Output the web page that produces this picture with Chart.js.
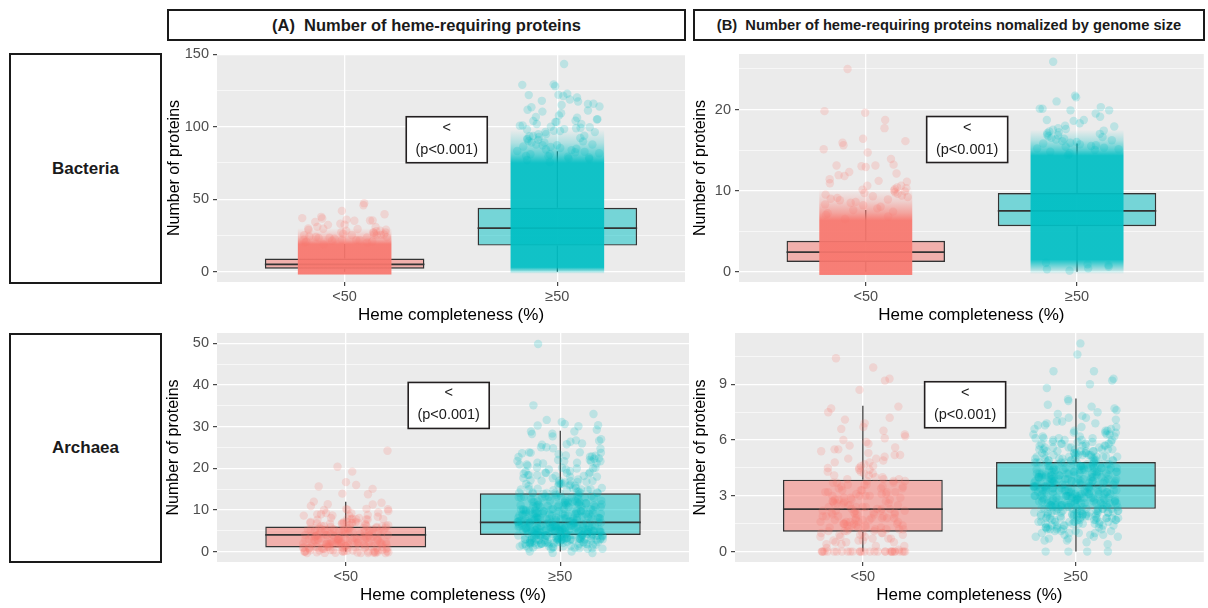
<!DOCTYPE html>
<html>
<head>
<meta charset="utf-8">
<title>Heme-requiring proteins by heme completeness</title>
<script src="https://cdn.jsdelivr.net/npm/chart.js@4.4.1/dist/chart.umd.min.js"></script>
<style>
  html, body { margin: 0; padding: 0; background: #ffffff; }
  body { position: relative; width: 1208px; height: 608px; overflow: hidden;
         font-family: 'Liberation Sans', Arial, Helvetica, sans-serif; }
  .strip { position: absolute; box-sizing: border-box; border: 2px solid #1a1a1a; background: #ffffff;
           display: flex; align-items: center; justify-content: center;
           font-weight: bold; color: #1a1a1a; white-space: pre; }
  canvas { position: absolute; }
</style>
</head>
<body>
<script>
// ---------------- data ----------------
const groups = ['<50', '≥50'];
const stripTitles = ['(A)  Number of heme-requiring proteins',
                     '(B)  Number of heme-requiring proteins nomalized by genome size'];
const domains = ['Bacteria', 'Archaea'];
const yTitle = 'Number of proteins';
const xTitle = 'Heme completeness (%)';
const testLabel = ['<', '(p<0.001)'];

// box statistics per group: [lower whisker, Q1, median, Q3, upper whisker]
const bacteriaCountBox = [[0, 2, 5, 9, 19], [0, 18, 30, 44, 83]];
const bacteriaNormBox  = [[0, 1.2, 2.4, 3.8, 7.6], [0, 5.6, 7.5, 9.7, 15.8]];
const archaeaCountBox  = [[0, 1, 4, 6, 12], [0, 4, 7, 14, 29]];
const archaeaNormBox   = [[0, 1.07, 2.28, 3.87, 7.84], [0, 2.3, 3.55, 4.82, 8.23]];

// bacteria: saturated jitter clouds [fade from, solid from, solid to, fade to]
const bacteriaCountCloud = [[-2.4, -1.6, 19, 30], [-1.5, 3, 75, 98]];
const bacteriaNormCloud  = [[-0.45, -0.35, 6.3, 10.2], [-0.3, 1.5, 14.3, 17.5]];

// bacteria: genomes lying in the thinning edge of the clouds and above them
const bacteriaCountSparse = [
  [19,20,20,21,21,21,22,22,22,22,23,23,23,24,24,24,24,25,25,25,25,26,26,26,27,27,27,27,28,28,28,
   29,29,29,30,30,31,31,32,32,33,34,35,35,35,36,37,37,38,40,42,46,47],
  [76,77,78,78,79,79,80,80,81,81,82,82,83,83,84,84,85,85,86,86,87,87,88,88,89,89,90,90,91,91,92,
   92,93,93,94,94,95,95,96,96,97,97,98,98,99,99,100,100,101,101,102,102,103,103,104,104,105,105,
   106,107,108,109,110,111,112,113,114,115,116,116,117,118,119,120,121,122,122,123,128,129,129,143]
];
const bacteriaNormSparse = [
  [6.5,6.8,7.0,7.2,7.4,7.6,7.8,8.0,8.2,8.3,8.5,8.6,8.8,8.9,9.0,9.1,9.2,9.3,9.4,9.5,9.6,9.7,9.8,9.9,
   10.0,10.1,10.2,10.3,10.4,10.6,10.6,10.9,11.1,11.2,11.4,11.8,11.9,12.1,12.3,12.9,13.0,13.1,13.1,
   13.2,13.9,14.7,15.1,15.6,15.9,16.1,16.4,17.7,18.7,19.6,19.8,25.0],
  [0.1,0.3,0.4,0.6,0.8,0.9,1.1,14.4,14.6,14.8,15.0,15.1,15.2,15.3,15.4,15.5,15.6,15.7,15.8,15.9,
   16.0,16.1,16.2,16.3,16.4,16.5,16.6,16.7,16.8,16.9,17.0,17.1,17.2,17.3,17.4,17.5,17.6,17.7,17.9,
   18.0,18.3,18.6,18.7,18.7,19.1,19.5,19.9,19.9,20.1,20.1,20.3,21.0,21.5,21.7,25.9]
];

// archaea: genomes per protein count (0, 1, 2, ...)
const archaeaCountFreq = [
  [30,28,25,24,24,20,17,14,11,9, 6,3,2,0,2,1,2,1,0,1, 1,0,0,0,1],
  [4,16,30,40,42,40,36,32,26,22, 20,18,17,15,14,11,10,9,9,8, 7,7,8,6,5,4,4,3,3,3,
   3,2,1,1,0,1,0,0,0,0, 0,0,0,0,0,0,0,0,0,0, 1]
];
// archaea: genomes per normalized value (0.0, 0.1, 0.2, ...)
const archaeaNormFreq = [
  [30,1,1,2,2,3,3,3,3,3, 4,4,5,4,5,5,5,4,5,4, 5,4,5,4,4,4,4,4,4,3, 4,3,4,3,3,3,3,3,3,3,
   2,2,2,2,2,2,2,1,2,1, 2,1,2,1,1,2,1,1,1,1, 1,1,1,1,0,1,1,1,0,1, 0,1,1,0,0,1,0,1,1,0,
   0,0,0,0,0,0,0,1,0,0, 0,0,1,1,0,0,0,0,0,1, 0,0,0,0,1],
  [4,0,0,0,1,1,2,2,3,3, 4,4,5,5,6,6,8,8,9,9, 10,10,10,10,10,10,10,10,10,10,
   10,10,10,10,10,9,10,10,10,10, 10,9,9,9,9,9,8,8,8,8, 7,7,7,6,6,6,5,5,5,4,
   4,4,3,3,3,3,2,2,2,2, 2,1,2,1,1,1,1,1,1,1, 0,1,1,0,0,0,0,0,1,0,
   1,0,1,1,0,0,0,2,0,0, 0,0,0,0,0,0,1,0,0,0, 0,0,1]
];

// axis ticks and limits
const bacteriaCountTicks = [0, 50, 100, 150];
const bacteriaNormTicks  = [0, 10, 20];
const archaeaCountTicks  = [0, 10, 20, 30, 40, 50];
const archaeaNormTicks   = [0, 3, 6, 9];
const bacteriaCountLimits = [-7.15, 150.15];
const bacteriaNormLimits  = [-1.28, 26.85];
const archaeaCountLimits  = [-2.5, 52.5];
const archaeaNormLimits   = [-0.56, 11.76];

// position of the test label in data units [x, y]
const testLabelAt = [[1.48, 91], [1.48, 16.3], [1.48, 35.1], [1.48, 7.9]];

// ---------------- styling / layout ----------------
const COLORS = ['#F8766D', '#00BFC4'];
const FONT = "'Liberation Sans', Arial, Helvetica, sans-serif";
const JITTER_W = 0.2;

function fade(hex, a) {
  const n = parseInt(hex.slice(1), 16);
  return `rgba(${(n >> 16) & 255},${(n >> 8) & 255},${n & 255},${a})`;
}
// deterministic jitter offsets (quadratic Weyl sequences)
const WA = 0.7548776662466927, WB = 0.5698402909980532;
const frac = v => v - Math.floor(v);
const jitX = i => (frac(0.5 + (i + 1) * (i + 2) * 0.5 * WA) - 0.5) * 2 * JITTER_W;
const jitY = i => (frac(0.25 + (i + 1) * (i + 3) * 0.5 * WB) - 0.5) * 0.8;

function expandFreq(freq, step) {
  const out = [];
  freq.forEach((n, k) => { for (let j = 0; j < n; j++) out.push(+(k * step).toFixed(2)); });
  return out;
}

const stripBoxes = [
  { left: 167, top: 9, w: 519, h: 32, size: 16.5 },
  { left: 693, top: 9, w: 512, h: 32, size: 14.7 }
];
const rowBoxes = [
  { left: 9, top: 53, w: 153, h: 231, size: 17 },
  { left: 9, top: 333, w: 153, h: 230, size: 17 }
];
const frames = [
  { left: 140, top: 34,  w: 560, h: 300, padTop: 20, padRight: 15, yWidth: 77, xHeight: 52, yTitlePad: 25.4, xTitlePad: 8.8 },
  { left: 680, top: 34,  w: 528, h: 300, padTop: 20, padRight: 4,  yWidth: 59, xHeight: 52, yTitlePad: 11.4, xTitlePad: 8.8 },
  { left: 140, top: 313, w: 560, h: 295, padTop: 20, padRight: 11, yWidth: 77, xHeight: 46, yTitlePad: 23.7, xTitlePad: 2.8 },
  { left: 680, top: 313, w: 528, h: 295, padTop: 20, padRight: 4,  yWidth: 55, xHeight: 46, yTitlePad: 11.4, xTitlePad: 2.8 }
];

const panels = [
  { box: bacteriaCountBox, cloud: bacteriaCountCloud, points: bacteriaCountSparse, vJitter: true,
    ticks: bacteriaCountTicks, limits: bacteriaCountLimits, label: testLabelAt[0] },
  { box: bacteriaNormBox, cloud: bacteriaNormCloud, points: bacteriaNormSparse, vJitter: false,
    ticks: bacteriaNormTicks, limits: bacteriaNormLimits, label: testLabelAt[1] },
  { box: archaeaCountBox, cloud: null, points: archaeaCountFreq.map(f => expandFreq(f, 1)), vJitter: true,
    ticks: archaeaCountTicks, limits: archaeaCountLimits, label: testLabelAt[2] },
  { box: archaeaNormBox, cloud: null, points: archaeaNormFreq.map(f => expandFreq(f, 0.1)), vJitter: false,
    ticks: archaeaNormTicks, limits: archaeaNormLimits, label: testLabelAt[3] }
];

// ---------------- strips ----------------
function addStrip(b, text) {
  const d = document.createElement('div');
  d.className = 'strip';
  d.style.left = b.left + 'px'; d.style.top = b.top + 'px';
  d.style.width = b.w + 'px'; d.style.height = b.h + 'px';
  d.style.fontSize = b.size + 'px';
  d.textContent = text;
  document.body.appendChild(d);
}
stripBoxes.forEach((b, i) => addStrip(b, stripTitles[i]));
rowBoxes.forEach((b, i) => addStrip(b, domains[i]));

// ---------------- plugins ----------------
const panelBackground = {
  id: 'panelBackground',
  beforeDraw(chart) {
    const a = chart.chartArea, ctx = chart.ctx;
    ctx.save();
    ctx.fillStyle = '#EBEBEB';
    ctx.fillRect(a.left, a.top, a.right - a.left, a.bottom - a.top);
    ctx.restore();
  }
};

const boxWhiskers = {
  id: 'boxWhiskers',
  afterDatasetDraw(chart, args) {
    const ds = chart.data.datasets[args.index];
    if (ds.role !== 'box') return;
    const y = chart.scales.y, ctx = chart.ctx;
    ctx.save();
    ctx.strokeStyle = '#333333';
    args.meta.data.forEach((bar, g) => {
      const s = ds.stats[g];
      const half = bar.width / 2;
      ctx.lineWidth = 1.2;
      ctx.beginPath();
      ctx.moveTo(bar.x, y.getPixelForValue(s[3])); ctx.lineTo(bar.x, y.getPixelForValue(s[4]));
      ctx.moveTo(bar.x, y.getPixelForValue(s[1])); ctx.lineTo(bar.x, y.getPixelForValue(s[0]));
      ctx.stroke();
      ctx.lineWidth = 1.8;
      ctx.beginPath();
      const ym = y.getPixelForValue(s[2]);
      ctx.moveTo(bar.x - half, ym); ctx.lineTo(bar.x + half, ym);
      ctx.stroke();
    });
    ctx.restore();
  }
};

const testLabelBox = {
  id: 'testLabelBox',
  afterDatasetsDraw(chart, args, opts) {
    const cx = chart.scales.x.getPixelForValue(opts.at[0]);
    const cy = chart.scales.y.getPixelForValue(opts.at[1]);
    const ctx = chart.ctx, w = 81, h = 46;
    ctx.save();
    ctx.fillStyle = '#ffffff';
    ctx.fillRect(cx - w / 2, cy - h / 2, w, h);
    ctx.strokeStyle = '#231f20'; ctx.lineWidth = 1.6;
    ctx.strokeRect(cx - w / 2, cy - h / 2, w, h);
    ctx.fillStyle = '#1a1a1a';
    ctx.font = '14.5px ' + FONT;
    ctx.textAlign = 'center'; ctx.textBaseline = 'middle';
    ctx.fillText(testLabel[0], cx, cy - 12);
    ctx.fillText(testLabel[1], cx, cy + 10);
    ctx.restore();
  }
};

function cloudFill(ctx, cloud) {
  if (ctx.dataIndex === undefined || !ctx.chart.chartArea) return 'rgba(0,0,0,0)';
  const c = cloud[ctx.dataIndex], col = COLORS[ctx.dataIndex];
  const ys = ctx.chart.scales.y;
  const g = ctx.chart.ctx.createLinearGradient(0, ys.getPixelForValue(c[0]), 0, ys.getPixelForValue(c[3]));
  const span = c[3] - c[0];
  const t1 = (c[1] - c[0]) / span, t2 = (c[2] - c[0]) / span;
  g.addColorStop(0, fade(col, 0));
  g.addColorStop(t1, fade(col, 0.93));
  g.addColorStop(t2, fade(col, 0.93));
  g.addColorStop(t2 + (1 - t2) * 0.25, fade(col, 0.6));
  g.addColorStop(t2 + (1 - t2) * 0.6, fade(col, 0.25));
  g.addColorStop(1, fade(col, 0));
  return g;
}

// ---------------- charts ----------------
Chart.defaults.font.family = FONT;

function buildPanel(p, f) {
  const canvas = document.createElement('canvas');
  canvas.width = f.w; canvas.height = f.h;
  canvas.style.left = f.left + 'px'; canvas.style.top = f.top + 'px';
  canvas.style.width = f.w + 'px'; canvas.style.height = f.h + 'px';
  document.body.appendChild(canvas);

  const datasets = [];
  p.points.forEach((vals, g) => {
    datasets.push({
      type: 'scatter', order: 0,
      data: vals.map((v, i) => ({ x: g + 1 + jitX(i + 97 * g), y: v + (p.vJitter ? jitY(i) : 0) })),
      pointRadius: 4.2, pointHoverRadius: 4.2, pointBorderWidth: 0,
      backgroundColor: fade(COLORS[g], 0.2), pointBackgroundColor: fade(COLORS[g], 0.2)
    });
  });
  if (p.cloud) {
    datasets.push({
      type: 'bar', order: 1, role: 'cloud',
      data: p.cloud.map((c, g) => ({ x: g + 1, y: [c[0], c[3]] })),
      backgroundColor: ctx => cloudFill(ctx, p.cloud),
      borderWidth: 0, barPercentage: 0.44, categoryPercentage: 1, grouped: false
    });
  }
  datasets.push({
    type: 'bar', order: 2, role: 'box', stats: p.box,
    data: p.box.map((s, g) => ({ x: g + 1, y: [s[1], s[3]] })),
    backgroundColor: COLORS.map(c => fade(c, 0.5)),
    borderColor: '#333333', borderWidth: 1.4, borderSkipped: false,
    barPercentage: 0.75, categoryPercentage: 1, grouped: false
  });

  const step = p.ticks[1] - p.ticks[0];
  const yTicks = [];
  p.ticks.forEach(v => yTicks.push({ value: v }));
  for (let v = p.ticks[0] - step / 2; v <= p.limits[1]; v += step) {
    if (v >= p.limits[0]) yTicks.push({ value: +v.toFixed(4), minor: true });
  }
  yTicks.sort((a, b) => a.value - b.value);

  new Chart(canvas, {
    type: 'bar',
    data: { datasets },
    plugins: [panelBackground, boxWhiskers, testLabelBox],
    options: {
      responsive: false, animation: false, devicePixelRatio: 1,
      layout: { padding: { top: f.padTop, right: f.padRight, left: 0, bottom: 0 } },
      plugins: { legend: { display: false }, tooltip: { enabled: false }, testLabelBox: { at: p.label } },
      scales: {
        x: {
          type: 'linear', min: 0.4, max: 2.6, offset: false,
          afterBuildTicks: a => { a.ticks = groups.map((_, g) => ({ value: g + 1 })); },
          afterFit: a => { a.height = f.xHeight; },
          ticks: { callback: v => groups[Math.round(v) - 1] || '', color: '#4d4d4d',
                   font: { size: 14.5 }, padding: 2.3, autoSkip: false, maxRotation: 0 },
          grid: { color: '#ffffff', lineWidth: 1.3, tickColor: '#333333', tickWidth: 1.1,
                  tickLength: 4, offset: false },
          border: { display: false },
          title: { display: true, text: xTitle, color: '#000000', font: { size: 17 },
                   padding: { top: 0, bottom: f.xTitlePad } }
        },
        y: {
          type: 'linear', min: p.limits[0], max: p.limits[1],
          afterBuildTicks: a => { a.ticks = yTicks.map(t => ({ ...t })); },
          afterFit: a => { a.width = f.yWidth; },
          ticks: { callback: (v, i, arr) => (arr[i] && arr[i].minor) ? '' : String(v),
                   color: '#4d4d4d', font: { size: 14.5 }, padding: 4, autoSkip: false },
          grid: { color: '#ffffff',
                  lineWidth: c => (c.tick && c.tick.minor) ? 0.6 : 1.3,
                  tickColor: c => (c.tick && c.tick.minor) ? 'rgba(0,0,0,0)' : '#333333',
                  tickWidth: 1.1, tickLength: 4 },
          border: { display: false },
          title: { display: true, text: yTitle, color: '#000000', font: { size: 16 },
                   padding: { top: f.yTitlePad, bottom: 0 } }
        }
      }
    }
  });
}

panels.forEach((p, i) => buildPanel(p, frames[i]));
</script>
</body>
</html>
